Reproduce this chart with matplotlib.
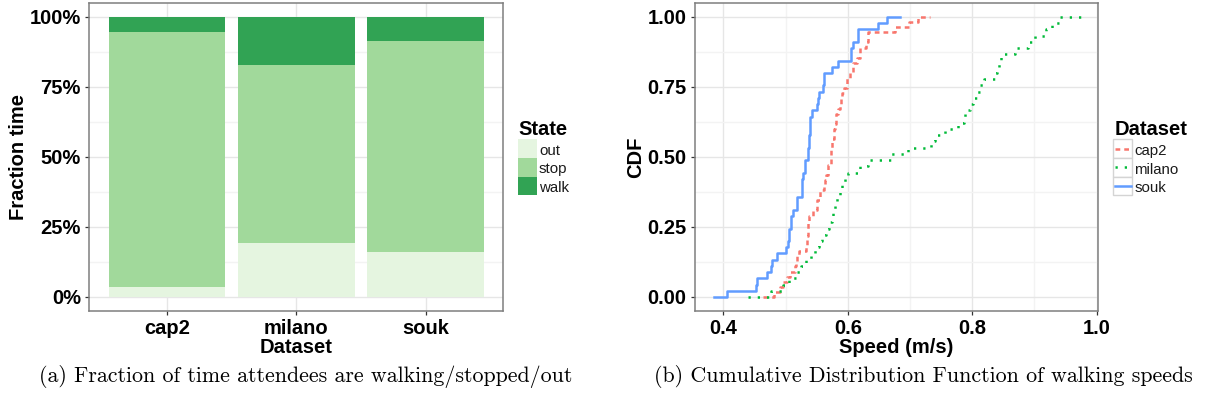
import numpy as np
import matplotlib
matplotlib.use("Agg")
import matplotlib.pyplot as plt
from matplotlib.patches import Rectangle
from matplotlib.lines import Line2D
from matplotlib.ticker import FixedLocator, PercentFormatter, FormatStrFormatter

plt.rcParams['font.family'] = ['Liberation Sans', 'DejaVu Sans']

W, H, DPI = 1208, 403, 100

# ---- (a) fraction of time per state ----
datasets = ["cap2", "milano", "souk"]
states = ["out", "stop", "walk"]
frac_out = [0.037, 0.193, 0.161]
frac_stop = [0.908, 0.635, 0.752]
frac_walk = [0.055, 0.172, 0.087]
state_colors = ["#e5f5e0", "#a1d99b", "#31a354"]

# ---- (b) walking speed samples (m/s) ----
speed_cap2 = [0.4820, 0.4911, 0.4965, 0.5018, 0.5072, 0.5152, 0.5176, 0.5181,
              0.5217, 0.5336, 0.5340, 0.5344, 0.5360, 0.5364, 0.5368, 0.5372,
              0.5447, 0.5498, 0.5503, 0.5551, 0.5556, 0.5618, 0.5642, 0.5647,
              0.5685, 0.5690, 0.5723, 0.5728, 0.5738, 0.5742, 0.5746, 0.5776,
              0.5781, 0.5802, 0.5806, 0.5810, 0.5838, 0.5883, 0.5888, 0.5913,
              0.5945, 0.5980, 0.5985, 0.6036, 0.6087, 0.6092, 0.6144, 0.6194,
              0.6199, 0.6288, 0.6328, 0.6333, 0.6760, 0.6985, 0.7135]
speed_milano = [0.476, 0.496, 0.505, 0.519, 0.525, 0.533, 0.541, 0.547, 0.553,
                0.559, 0.565, 0.570, 0.575, 0.577, 0.579, 0.583, 0.587, 0.591,
                0.595, 0.600, 0.619, 0.633, 0.670, 0.697, 0.733, 0.740, 0.756,
                0.777, 0.786, 0.789, 0.796, 0.802, 0.807, 0.812, 0.819, 0.836,
                0.840, 0.843, 0.847, 0.868, 0.890, 0.901, 0.918, 0.928, 0.940]
speed_souk = [0.4054, 0.4530, 0.4536, 0.4697, 0.4761, 0.4788, 0.4868, 0.5007,
              0.5034, 0.5058, 0.5062, 0.5085, 0.5090, 0.5125, 0.5186, 0.5192,
              0.5262, 0.5266, 0.5270, 0.5274, 0.5310, 0.5315, 0.5360, 0.5365,
              0.5370, 0.5385, 0.5390, 0.5395, 0.5400, 0.5431, 0.5501, 0.5524,
              0.5530, 0.5597, 0.5620, 0.5626, 0.5752, 0.5838, 0.6050, 0.6055,
              0.6090, 0.6166, 0.6172, 0.6492, 0.6637]
speed_names = ["cap2", "milano", "souk"]
speed_colors = ["#F8766D", "#00BA38", "#619CFF"]
speed_dashes = [(1.9, 1.6), (0.9, 2.8), None]

BOLD = 14.5
LW = 1.8
GRID_MAJ = "#e6e6e6"
GRID_MIN = "#f3f3f3"


def ecdf_steps(values):
    """Empirical CDF as step vertices, padded at both ends like stat_ecdf."""
    v = np.sort(np.asarray(values, float))
    xs = np.unique(v)
    ys = np.searchsorted(v, xs, side="right") / len(v)
    dr = max(0.08 * (xs[-1] - xs[0]), np.median(np.diff(xs)))
    x = np.concatenate([[xs[0] - dr], xs, [xs[-1] + dr]])
    y = np.concatenate([[0.0], ys, [1.0]])
    return x, y


def px_axes(fig, left, top, right, bottom):
    return fig.add_axes([left / W, 1 - bottom / H, (right - left) / W, (bottom - top) / H])


def style_axes(ax):
    for s in ax.spines.values():
        s.set_color("#7f7f7f")
        s.set_linewidth(1.1)
    ax.set_axisbelow(True)
    ax.grid(which="major", color=GRID_MAJ, lw=1.0)
    ax.grid(which="minor", color=GRID_MIN, lw=1.0)
    ax.tick_params(which="major", direction="out", length=3.0, width=0.9,
                   color="#333333", labelcolor="black")
    ax.tick_params(axis="x", pad=3.0)
    ax.tick_params(axis="y", pad=3.0)
    ax.tick_params(which="minor", length=0)


fig = plt.figure(figsize=(W / DPI, H / DPI), dpi=DPI)

# ---------------- panel (a) ----------------
ax1 = px_axes(fig, 89.3, 3, 503.3, 311)
pos = np.arange(1, len(datasets) + 1)
bottom = np.zeros(len(datasets))
for vals, col in zip([frac_out, frac_stop, frac_walk], state_colors):
    ax1.bar(pos, vals, width=0.9, bottom=bottom, color=col, linewidth=0)
    bottom += np.asarray(vals)
ax1.set_xlim(0.4, 3.6)
ax1.set_ylim(-0.05, 1.05)
style_axes(ax1)
ax1.set_xticks(pos, labels=datasets, fontsize=BOLD, fontweight="bold")
ax1.set_yticks([0, 0.25, 0.5, 0.75, 1.0])
ax1.yaxis.set_major_formatter(PercentFormatter(xmax=1, decimals=0))
ax1.yaxis.set_minor_locator(FixedLocator([0.125, 0.375, 0.625, 0.875]))
for lab in ax1.get_yticklabels():
    lab.set_fontsize(BOLD)
    lab.set_fontweight("bold")
ax1.grid(which="major", axis="x", color=GRID_MAJ, lw=1.0)
ax1.set_xlabel("Dataset", fontsize=BOLD, fontweight="bold", labelpad=0)
ax1.set_ylabel("Fraction time", fontsize=BOLD, fontweight="bold", labelpad=1)

# ---------------- panel (b) ----------------
ax2 = px_axes(fig, 695, 3, 1098.3, 311)
for vals, col, dsh in zip([speed_cap2, speed_milano, speed_souk], speed_colors, speed_dashes):
    x, y = ecdf_steps(vals)
    line, = ax2.step(x, y, where="post", color=col, lw=LW)
    if dsh is not None:
        line.set_dashes(dsh)
        line.set_dash_capstyle("butt")
ax2.set_xlim(0.3545, 1.0026)
ax2.set_ylim(-0.05, 1.05)
style_axes(ax2)
ax2.set_xticks([0.4, 0.6, 0.8, 1.0])
ax2.xaxis.set_major_formatter(FormatStrFormatter("%.1f"))
ax2.xaxis.set_minor_locator(FixedLocator([0.5, 0.7, 0.9]))
ax2.set_yticks([0, 0.25, 0.5, 0.75, 1.0])
ax2.yaxis.set_major_formatter(FormatStrFormatter("%.2f"))
ax2.yaxis.set_minor_locator(FixedLocator([0.125, 0.375, 0.625, 0.875]))
for lab in ax2.get_xticklabels() + ax2.get_yticklabels():
    lab.set_fontsize(BOLD)
    lab.set_fontweight("bold")
ax2.set_xlabel("Speed (m/s)", fontsize=BOLD, fontweight="bold", labelpad=0)
ax2.set_ylabel("CDF", fontsize=BOLD, fontweight="bold", labelpad=2)


# ---------------- legends ----------------
def fx(px):
    return px / W


def fy(py):
    return 1 - py / H


row_edges = [139.3, 157.9, 176.5, 195.1]
key_w = 19.0

# State legend (filled keys)
lx = 518.0
fig.text(fx(lx), fy(135), "State", fontsize=BOLD, fontweight="bold", va="baseline", ha="left")
for i, (name, col) in enumerate(zip(states, state_colors)):
    t, b = row_edges[i], row_edges[i + 1]
    fig.patches.append(Rectangle((fx(lx), fy(b)), key_w / W, (b - t) / H,
                                 transform=fig.transFigure, facecolor=col,
                                 edgecolor="none"))
    fig.text(fx(lx + key_w + 2), fy(b - 3), name, fontsize=10.8, va="baseline",
             ha="left", color="#1a1a1a")

# Dataset legend (line keys in boxed cells)
rx = 1113.3
fig.text(fx(rx + 1.5), fy(135), "Dataset", fontsize=BOLD, fontweight="bold", va="baseline", ha="left")
for i, (name, col, dsh) in enumerate(zip(speed_names, speed_colors, speed_dashes)):
    t, b = row_edges[i], row_edges[i + 1]
    fig.patches.append(Rectangle((fx(rx), fy(b)), key_w / W, (b - t) / H,
                                 transform=fig.transFigure, facecolor="white",
                                 edgecolor="#d4d4d4", lw=1.0))
    ym = fy((t + b) / 2)
    ln = Line2D([fx(rx + 1.5), fx(rx + key_w - 1.5)], [ym, ym], transform=fig.transFigure,
                color=col, lw=LW)
    if dsh is not None:
        ln.set_dashes(dsh)
        ln.set_dash_capstyle("butt")
    fig.lines.append(ln)
    fig.text(fx(rx + key_w + 2), fy(b - 3), name, fontsize=10.8, va="baseline",
             ha="left", color="#1a1a1a")

# ---------------- captions ----------------
fig.text(fx(305.5), fy(376), "(a) Fraction of time attendees are walking/stopped/out",
         family="cmr10", fontsize=15.8, ha="center", va="center")
fig.text(fx(923.5), fy(376), "(b) Cumulative Distribution Function of walking speeds",
         family="cmr10", fontsize=15.8, ha="center", va="center")

fig.savefig("out.png", dpi=DPI)
